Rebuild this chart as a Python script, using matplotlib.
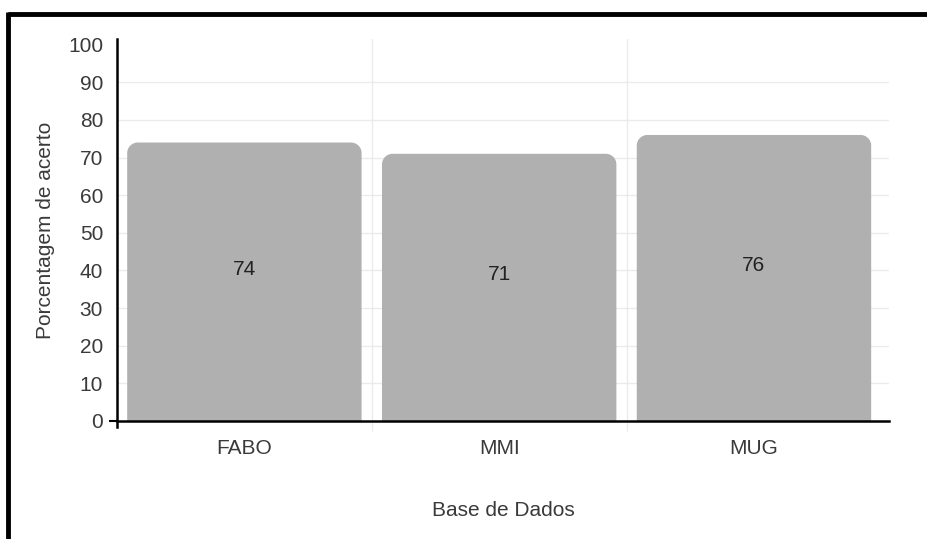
import matplotlib
matplotlib.use("Agg")
import matplotlib.pyplot as plt
from matplotlib.path import Path
from matplotlib.patches import PathPatch
from matplotlib.lines import Line2D

plt.rcParams['font.family'] = ['Liberation Sans', 'DejaVu Sans']

bases = ['FABO', 'MMI', 'MUG']
acerto = [74, 71, 76]
yticks = list(range(0, 101, 10))

BAR_COLOR = '#b0b0b1'
GRID_COLOR = '#ebebeb'
TEXT_COLOR = '#3a3a3a'


def rounded_top(x0, x1, y0, y1, rx, ry):
    # retangulo com cantos superiores arredondados (coords de dados)
    k = 0.5523
    verts = [(x0, y0), (x0, y1 - ry), (x0, y1 - ry + k * ry), (x0 + rx - k * rx, y1), (x0 + rx, y1),
             (x1 - rx, y1), (x1 - rx + k * rx, y1), (x1, y1 - ry + k * ry), (x1, y1 - ry),
             (x1, y0), (x0, y0)]
    codes = [Path.MOVETO, Path.LINETO, Path.CURVE4, Path.CURVE4, Path.CURVE4,
             Path.LINETO, Path.CURVE4, Path.CURVE4, Path.CURVE4,
             Path.LINETO, Path.CLOSEPOLY]
    return Path(verts, codes)


fig = plt.figure(figsize=(9.28, 5.39), dpi=100)
ax = fig.add_axes([117 / 928, 1 - 421 / 539, (889 - 117) / 928, (421 - 39) / 539])

xs = range(len(bases))
bars = ax.bar(xs, acerto, width=0.92, color=BAR_COLOR, zorder=2)
ax.set_xlim(-0.5, len(bases) - 0.47)
ax.set_ylim(0, 101.5)

# trocar os retangulos por barras com topo arredondado
for b in bars:
    x0, y0 = b.get_x(), b.get_y()
    x1, y1 = x0 + b.get_width(), y0 + b.get_height()
    b.set_visible(False)
    ax.add_patch(PathPatch(rounded_top(x0, x1, y0, y1, 0.042, 2.8),
                           facecolor=BAR_COLOR, edgecolor='none', zorder=2))

for x, v in zip(xs, acerto):
    ax.annotate(str(v), (x, v / 2), xytext=(0, 9), textcoords='offset points',
                ha='center', va='center', fontsize=15, color='#222222', zorder=3)

ax.set_yticks(yticks)
ax.set_yticklabels([str(t) for t in yticks], fontsize=15, color=TEXT_COLOR)
ax.set_xticks(list(xs))
ax.set_xticklabels(bases, fontsize=15, color=TEXT_COLOR)
ax.set_xticks([i + 0.5 for i in range(len(bases) - 1)], minor=True)

ax.tick_params(axis='x', which='major', length=0, pad=13)
ax.tick_params(axis='x', which='minor', length=7, color=GRID_COLOR, width=1)
ax.tick_params(axis='y', length=6, width=1.5, color='black', pad=4)
for t in ax.yaxis.get_major_ticks()[1:]:
    t.tick1line.set_visible(False)

for t in yticks[1:-1]:
    ax.axhline(t, color=GRID_COLOR, lw=1, zorder=1)
ax.grid(True, axis='x', which='minor', color=GRID_COLOR, lw=1, zorder=1)

for s in ['top', 'right']:
    ax.spines[s].set_visible(False)
ax.spines['left'].set_linewidth(1.8)
ax.spines['bottom'].set_linewidth(1.8)
ax.spines['left'].set_bounds(-1.7, 101.5)

ax.set_ylabel('Porcentagem de acerto', fontsize=15, color=TEXT_COLOR, labelpad=9)
ax.set_xlabel('Base de Dados', fontsize=15, color=TEXT_COLOR, labelpad=31)

# moldura preta (topo e esquerda)
fig.add_artist(Line2D([8.5 / 928, 1], [1 - 14 / 539, 1 - 14 / 539], transform=fig.transFigure,
                      color='black', lw=3.5, solid_capstyle='butt'))
fig.add_artist(Line2D([8.5 / 928, 8.5 / 928], [0, 1 - 12 / 539], transform=fig.transFigure,
                      color='black', lw=3.5, solid_capstyle='butt'))

fig.savefig('out.png', dpi=100)
